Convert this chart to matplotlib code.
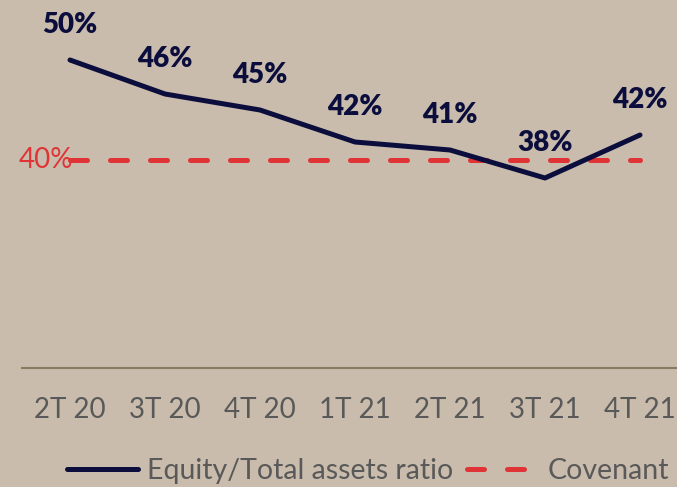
import matplotlib
matplotlib.use("Agg")
import matplotlib.pyplot as plt
from matplotlib.lines import Line2D

categories = ["2T 20", "3T 20", "4T 20", "1T 21", "2T 21", "3T 21", "4T 21"]
ratio = [50.0, 46.6, 45.0, 41.8, 41.0, 38.2, 42.5]
ratio_labels = ["50%", "46%", "45%", "42%", "41%", "38%", "42%"]
covenant = [40, 40, 40, 40, 40, 40, 40]
covenant_label = "40%"

bg = "#c9bcac"
navy = "#0b0e3d"
red = "#df3336"
gray = "#595959"

plt.rcParams['font.family'] = ['Lato', 'DejaVu Sans']

fig = plt.figure(figsize=(6.77, 4.87), dpi=100, facecolor=bg)
W, H = 677, 487
left, right = 22.5, 687.5
ax = fig.add_axes([left / W, (H - 368) / H, (right - left) / W, 368 / H])
ax.set_facecolor(bg)
x = list(range(len(categories)))
ax.set_xlim(-0.5, len(categories) - 0.5)
ax.set_ylim(19.2, 56.0)

ax.plot(x, covenant, color=red, lw=3.6, dashes=(3.4, 4.6), dash_capstyle='round',
        label="Covenant", zorder=2)
ax.plot(x, ratio, color=navy, lw=3.6, solid_capstyle='round',
        label="Equity/Total assets ratio", zorder=3)

for xi, yi, lab in zip(x, ratio, ratio_labels):
    ax.annotate(lab, (xi, yi), xytext=(0, 25), textcoords='offset points',
                ha='center', va='center', fontsize=20, fontweight='heavy', color=navy)

ax.text(-0.54, 40, covenant_label, ha='left', va='center', fontsize=20,
        color=red, transform=ax.transData, zorder=1)

for s in ['top', 'right', 'left']:
    ax.spines[s].set_visible(False)
ax.spines['bottom'].set_color("#8b7a62")
ax.spines['bottom'].set_linewidth(1.5)
ax.set_yticks([])
ax.set_xticks(x)
ax.set_xticklabels(categories, fontsize=20, color=gray)
ax.tick_params(axis='x', length=0, pad=21)

handles = [Line2D([0], [0], color=navy, lw=3.6, solid_capstyle='round'),
           Line2D([0], [0], color=red, lw=3.6, dashes=(3.4, 4.6), dash_capstyle='round')]
fig.legend(handles, ["Equity/Total assets ratio", "Covenant"], loc='center',
           bbox_to_anchor=(368 / W, 1 - 471 / H), ncol=2, frameon=False,
           fontsize=20.5, labelcolor=gray, handlelength=2.5, handletextpad=0.3,
           columnspacing=0.5, borderaxespad=0)

fig.savefig("out.png", dpi=100, facecolor=bg)
